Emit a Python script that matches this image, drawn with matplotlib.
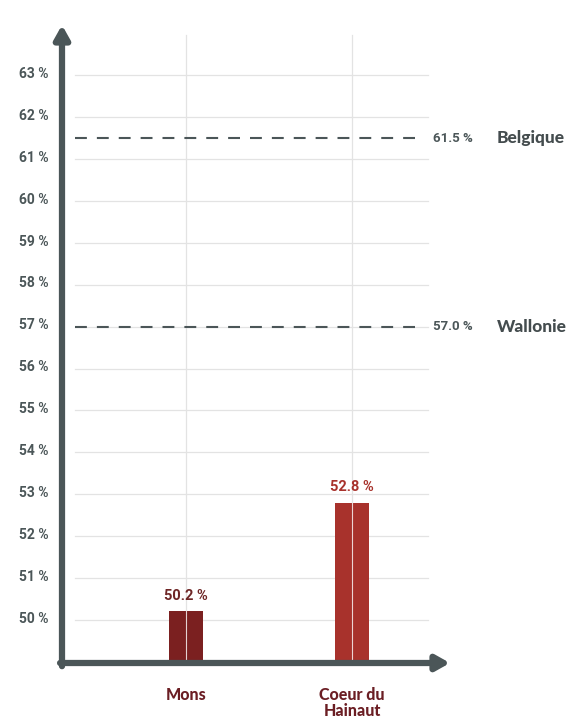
import matplotlib.pyplot as plt

# data
communes = ["Mons", "Coeur du\nHainaut"]
taux = [50.2, 52.8]
bar_colors = ["#7b2020", "#a8322c"]
label_colors = ["#6e2626", "#a8322c"]
ref_noms = ["Belgique", "Wallonie"]
ref_vals = [61.5, 57.0]
yticks = list(range(50, 64))

W, H = 575, 722
fig = plt.figure(figsize=(W / 100, H / 100), dpi=100)
# axes box in pixels: left 62, right 450, top 25, bottom 663
ax = fig.add_axes([62 / W, (H - 663) / H, (450 - 62) / W, (663 - 25) / H])

xmin, xmax = -0.747, 1.59
ymin, ymax = 48.97, 64.2
ax.set_xlim(xmin, xmax)
ax.set_ylim(ymin, ymax)

grey = "#4b5658"
grid = "#e3e3e3"

# horizontal gridlines
for v in yticks:
    ax.plot([-0.669, 1.458], [v, v], color=grid, lw=0.9, zorder=1)
# vertical gridlines
for i in range(len(communes)):
    ax.plot([i, i], [ymin, 63.95], color=grid, lw=0.9, zorder=1)

# reference dashed lines
for nom, v in zip(ref_noms, ref_vals):
    ln, = ax.plot([-0.669, 1.40], [v, v], color=grey, lw=1.5, zorder=2)
    ln.set_dashes([5.7, 4.8])
    ax.text(1.488, v, f"{v:.1f} %", color=grey, fontsize=9.5, fontweight="bold",
            family="Roboto", va="center", ha="left", clip_on=False)
    ax.text(1.87, v, nom, color="#444c4e", fontsize=12.5, fontweight="black",
            family="Lato", va="center", ha="left", clip_on=False)

# bars
x = list(range(len(communes)))
ax.bar(x, taux, width=0.205, color=bar_colors, zorder=3, bottom=0)
for i in x:
    ax.plot([i, i], [ymin, taux[i]], color="white", lw=0.8, alpha=0.8, zorder=4)
    ax.text(i, taux[i] + 0.2, f"{taux[i]:.1f} %", color=label_colors[i],
            fontsize=10.5, fontweight="bold", family="Roboto", ha="center", va="bottom")
    ax.text(i, 48.4, communes[i], color="#6b1e24", fontsize=11.5, fontweight="black",
            family="Lato", ha="center", va="top", linespacing=1.0, clip_on=False)

# y tick labels
for v in yticks:
    ax.text(-0.83, v + 0.03, f"{v} %", color=grey, fontsize=10, fontweight="bold",
            family="Roboto", ha="right", va="center", clip_on=False)

for s in ax.spines.values():
    s.set_visible(False)
ax.set_xticks([])
ax.set_yticks([])

# arrowed axes
ax.annotate("", xy=(0, 1.0), xytext=(0, -0.005), xycoords="axes fraction",
            arrowprops=dict(arrowstyle="-|>,head_length=0.8,head_width=0.45",
                            color=grey, lw=4.5, shrinkA=0, shrinkB=0), zorder=5)
ax.annotate("", xy=(1.0, 0), xytext=(-0.005, 0), xycoords="axes fraction",
            arrowprops=dict(arrowstyle="-|>,head_length=0.8,head_width=0.45",
                            color=grey, lw=4.5, shrinkA=0, shrinkB=0), zorder=5)

fig.savefig("out.png", dpi=100)
